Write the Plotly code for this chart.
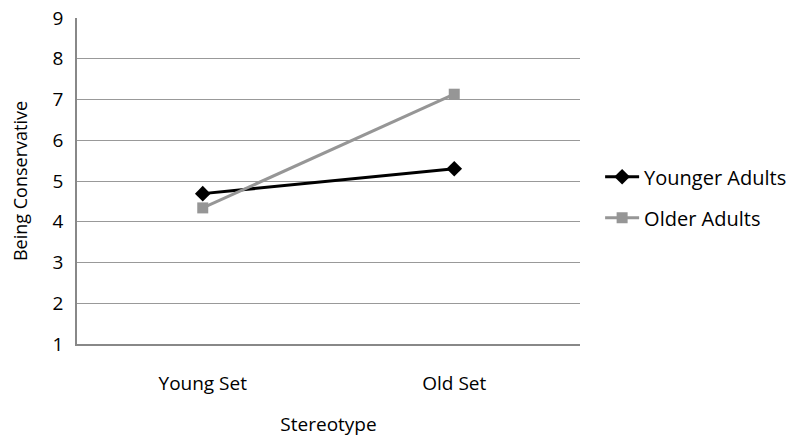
import plotly.graph_objects as go

categories = ["Young Set", "Old Set"]
younger = [4.69, 5.30]
older = [4.34, 7.13]
series_names = ["Younger Adults", "Older Adults"]
y_ticks = [1, 2, 3, 4, 5, 6, 7, 8, 9]

font = "Open Sans, Liberation Sans, sans-serif"

fig = go.Figure()
fig.add_trace(go.Scatter(x=categories, y=younger, name=series_names[0], mode="lines+markers",
                         legendgroup="a",
                         line=dict(color="#000000", width=3),
                         marker=dict(symbol="diamond", size=12, color="#000000")))
fig.add_trace(go.Scatter(x=categories, y=older, name=series_names[1], mode="lines+markers",
                         legendgroup="b",
                         line=dict(color="#969696", width=3),
                         marker=dict(symbol="square", size=11, color="#969696")))

fig.update_layout(
    width=800, height=445,
    margin=dict(l=69, r=228, t=10, b=109, autoexpand=False),
    paper_bgcolor="white", plot_bgcolor="white",
    font=dict(family=font, color="#000000", size=19),
    showlegend=True,
    legend=dict(x=1.04, y=0.45, xanchor="left", yanchor="middle",
                font=dict(size=20, family=font), tracegroupgap=12,
                itemwidth=34),
    xaxis=dict(range=[-0.5, 1.5], showgrid=False, showline=True, linecolor="#888888", linewidth=1.5,
               ticks="", tickfont=dict(size=19), ticklabelstandoff=21, automargin=False,
               title=dict(text="Stereotype", font=dict(size=19), standoff=23)),
    yaxis=dict(range=[1, 9], tickmode="array", tickvals=y_ticks, showgrid=True,
               gridcolor="#999999", gridwidth=1.3, ticklabeloverflow="allow",
               showline=True, linecolor="#888888", linewidth=1.5, ticks="", automargin=False,
               tickfont=dict(size=19), zeroline=False, ticklabelstandoff=8,
               title=dict(text="Being Conservative", font=dict(size=18), standoff=36)),
)

fig.write_html("out.html")
